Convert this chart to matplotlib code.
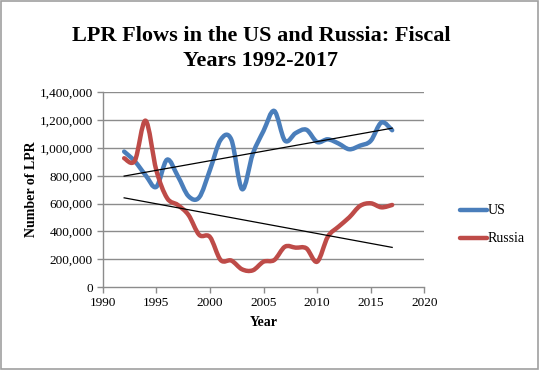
import numpy as np
import matplotlib
matplotlib.use('Agg')
import matplotlib.pyplot as plt
from matplotlib.path import Path
from matplotlib.patches import PathPatch, Rectangle
from matplotlib.ticker import FuncFormatter

years = list(range(1992, 2018))
us = [973977, 903916, 803993, 720177, 915560, 797847, 653206, 644787, 841002,
      1058902, 1059356, 703542, 957883, 1122257, 1266129, 1052415, 1107126,
      1130818, 1042625, 1062040, 1031631, 990553, 1016518, 1051031, 1183505,
      1127167]
russia = [926000, 909000, 1196000, 840000, 640000, 590000, 518000, 375000,
          360000, 194000, 190000, 127000, 120000, 182000, 194000, 290000,
          283000, 278000, 182000, 362000, 434000, 501000, 583000, 602000,
          573000, 590000]

plt.rcParams['font.family'] = ['Liberation Serif', 'DejaVu Serif']


def smooth_path(x, y):
    # Catmull-Rom style bezier, like Excel's "smoothed line"
    x = np.asarray(x, float)
    y = np.asarray(y, float)
    px = np.concatenate([[x[0]], x, [x[-1]]])
    py = np.concatenate([[y[0]], y, [y[-1]]])
    verts = [(x[0], y[0])]
    codes = [Path.MOVETO]
    for i in range(1, len(x)):
        p0 = (px[i - 1], py[i - 1])
        p1 = (px[i], py[i])
        p2 = (px[i + 1], py[i + 1])
        p3 = (px[i + 2], py[i + 2])
        c1 = (p1[0] + (p2[0] - p0[0]) / 6, p1[1] + (p2[1] - p0[1]) / 6)
        c2 = (p2[0] - (p3[0] - p1[0]) / 6, p2[1] - (p3[1] - p1[1]) / 6)
        verts += [c1, c2, p2]
        codes += [Path.CURVE4] * 3
    return Path(verts, codes)


fig = plt.figure(figsize=(5.4, 3.7), dpi=100)
ax = fig.add_axes([0.1902, 0.2243, 0.5956, 0.5262])

grid_col = '#8c8c8c'
for v in range(200000, 1400001, 200000):
    ax.axhline(v, color=grid_col, lw=1.0, zorder=1)

series = [('US', us, '#4a7ebb'), ('Russia', russia, '#be4b48')]
for name, vals, col in series:
    ax.add_patch(PathPatch(smooth_path(years, vals), fill=False, edgecolor=col,
                           lw=3.2, capstyle='round', joinstyle='round', zorder=3))
    # linear trend line
    k, b = np.polyfit(years, vals, 1)
    ax.plot([years[0], years[-1]], [k * years[0] + b, k * years[-1] + b],
            color='black', lw=0.9, zorder=4)

ax.set_xlim(1990, 2020)
ax.set_ylim(0, 1400000)
ax.set_xticks(range(1990, 2021, 5))
ax.set_yticks(range(0, 1400001, 200000))
ax.yaxis.set_major_formatter(FuncFormatter(lambda v, p: f'{int(v):,}'))

for s in ['top', 'right']:
    ax.spines[s].set_visible(False)
for s in ['left', 'bottom']:
    ax.spines[s].set_color(grid_col)
    ax.spines[s].set_linewidth(1.0)
ax.tick_params(axis='both', direction='out', length=4, width=1.0,
               color=grid_col, labelsize=9.5, pad=3)

ax.set_xlabel('Year', fontsize=10, fontweight='bold', labelpad=5)
ax.set_ylabel('Number of LPR', fontsize=10, fontweight='bold', labelpad=1)

fig.text(0.483, 0.87, 'LPR Flows in the US and Russia: Fiscal\nYears 1992-2017',
         ha='center', va='center', fontsize=16, fontweight='bold',
         linespacing=1.32)

# legend
for i, (name, vals, col) in enumerate(series):
    y = 1 - (210 + 28 * i) / 370
    fig.add_artist(plt.Line2D([460 / 540, 487 / 540], [y, y], color=col, lw=3.2,
                              solid_capstyle='round'))
    fig.text(488 / 540, y, name, ha='left', va='center', fontsize=10)

fig.add_artist(Rectangle((0.002, 0.003), 0.995, 0.994, transform=fig.transFigure,
                         fill=False, edgecolor='#a0a0a0', lw=1.2))

fig.savefig('out.png', dpi=100)
